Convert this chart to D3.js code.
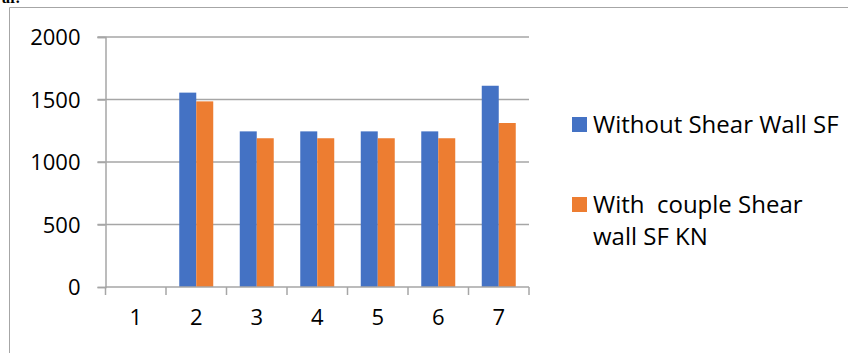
<!DOCTYPE html>
<html>
<head>
<meta charset="utf-8">
<script src="https://cdn.jsdelivr.net/npm/d3@7"></script>
<style>
  html, body { margin: 0; padding: 0; background: #fff; }
  svg { display: block; }
  text { font-family: "Open Sans", "Liberation Sans", sans-serif; fill: #000; }
</style>
</head>
<body>
<svg id="chart" width="848" height="353"></svg>
<script>
const categories = ["1", "2", "3", "4", "5", "6", "7"];
const seriesNames = ["Without Shear Wall SF", "With  couple Shear wall SF KN"];
const withoutShearWall = [0, 1555, 1245, 1245, 1245, 1245, 1610];
const withCoupleShearWall = [0, 1485, 1190, 1190, 1190, 1190, 1312];
const yTicks = [0, 500, 1000, 1500, 2000];
const colors = ["#4472C4", "#ED7D31"];

(function () {
const svg = d3.select("#chart");
const W = 848, H = 353;
const mLeft = 105.5, mRight = 529, mTop = 37, mBottom = 287;

// outer chart-area border (clipped by page)
svg.append("path")
  .attr("d", `M9.5,${H + 5}V7.5H${W + 5}`)
  .attr("fill", "none").attr("stroke", "#a6a6a6").attr("stroke-width", 1);

// cut-off heading text at the very top
svg.append("text").attr("x", 2).attr("y", 3)
  .style("font-family", "'Liberation Serif', serif").style("font-weight", "bold")
  .style("font-size", "16px").text("ar.");

const x0 = d3.scaleBand().domain(categories).range([mLeft, mRight]).padding(0);
const x1 = d3.scaleBand().domain([0, 1]).range([0, x0.bandwidth()]).paddingInner(0).paddingOuter(0.78);
const y = d3.scaleLinear().domain([0, 2000]).range([mBottom, mTop]);

// gridlines
const grid = svg.append("g");
yTicks.filter(t => t > 0).forEach(t => {
  grid.append("line").attr("x1", 97.5).attr("x2", mRight).attr("y1", y(t)).attr("y2", y(t))
    .attr("stroke", "#a6a6a6").attr("stroke-width", 1.5);
});

// bars
const data = categories.map((c, i) => ({ c, v: [withoutShearWall[i], withCoupleShearWall[i]] }));
svg.append("g").selectAll("g").data(data).join("g")
  .attr("transform", d => `translate(${x0(d.c)},0)`)
  .selectAll("rect").data(d => d.v.map((v, k) => ({ v, k }))).join("rect")
  .attr("x", d => x1(d.k)).attr("width", x1.bandwidth())
  .attr("y", d => y(d.v)).attr("height", d => y(0) - y(d.v))
  .attr("fill", d => colors[d.k]);

// y axis
const yAxis = d3.axisLeft(y).tickValues(yTicks).tickSize(8).tickPadding(17).tickFormat(d3.format("d"));
const gy = svg.append("g").attr("transform", `translate(${mLeft},0)`).call(yAxis);
gy.select(".domain").attr("stroke", "#a6a6a6").attr("stroke-width", 1.5);
gy.selectAll(".tick line").attr("stroke", "#a6a6a6").attr("stroke-width", 1.5);
gy.selectAll(".tick text").style("font-size", "22px").style("font-family", "'Open Sans', sans-serif").attr("fill", "#000").attr("dy", "0.36em");

// x axis
const xAxis = d3.axisBottom(x0).tickSize(0).tickPadding(22);
const gx = svg.append("g").attr("transform", `translate(0,${mBottom})`).call(xAxis);
gx.select(".domain").attr("stroke", "#a6a6a6").attr("stroke-width", 1.5).attr("d", `M${mLeft},0H${mRight}`);
gx.selectAll(".tick text").style("font-size", "22px").style("font-family", "'Open Sans', sans-serif").attr("fill", "#000");
// tick marks at category boundaries
const bounds = categories.map(c => x0(c)).concat([mRight]);
gx.append("g").selectAll("line").data(bounds).join("line")
  .attr("x1", d => d).attr("x2", d => d).attr("y1", 0).attr("y2", 8)
  .attr("stroke", "#a6a6a6").attr("stroke-width", 1.5);

// legend
const legend = svg.append("g");
const legendItems = [
  { lines: ["Without Shear Wall SF"], sq: 117, base: 133 },
  { lines: ["With  couple Shear", "wall SF KN"], sq: 197, base: 213 }
];
legendItems.forEach((it, k) => {
  legend.append("rect").attr("x", 572).attr("y", it.sq).attr("width", 15).attr("height", 15).attr("fill", colors[k]);
  const t = legend.append("text").attr("x", 593).attr("y", it.base)
    .style("font-size", "24px").attr("xml:space", "preserve").style("white-space", "pre");
  it.lines.forEach((ln, j) => {
    t.append("tspan").attr("x", 593).attr("y", it.base + j * 32).text(ln);
  });
});
})();
</script>
</body>
</html>
